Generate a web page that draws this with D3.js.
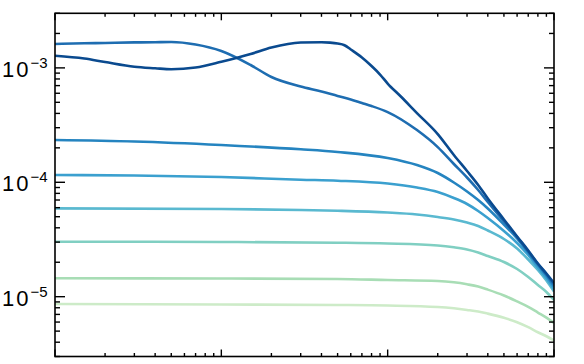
<!DOCTYPE html>
<html><head><meta charset="utf-8">
<script src="https://cdn.jsdelivr.net/npm/d3@7"></script>
<style>body{margin:0;background:#fff}svg{display:block}</style>
</head><body>
<svg id="chart" width="584" height="364"></svg>
<script>
// ---- data ----
const xDomain = [1, 1000];
const yDomain = [3e-6, 3e-3];
const yLabelExponents = [-3, -4, -5];

const s1x = [1,1.5,2,3,4,5,7,10,15,20,30,40,45,50,55,60,70,80,90,100,120,150,200,250,300,350,400,500,600,700,800,900,1000];
const s1y = [1.278e-3,1.208e-3,1.125e-3,1.024e-3,0.992e-3,0.972e-3,1.008e-3,1.132e-3,1.322e-3,1.507e-3,1.667e-3,1.677e-3,1.663e-3,1.633e-3,1.578e-3,1.448e-3,1.232e-3,1.038e-3,8.75e-4,7.30e-4,5.62e-4,4.03e-4,2.64e-4,1.732e-4,1.255e-4,9.47e-5,7.21e-5,4.73e-5,3.36e-5,2.533e-5,1.95e-5,1.594e-5,1.317e-5];

const s2x = [1,1.5,2,3,4,5,7,10,15,20,30,40,50,60,70,80,100,150,200,250,300,350,400,500,600,700,800,900,1000];
const s2y = [1.617e-3,1.640e-3,1.650e-3,1.670e-3,1.677e-3,1.683e-3,1.601e-3,1.405e-3,1.06e-3,8.32e-4,6.87e-4,6.22e-4,5.68e-4,5.29e-4,4.93e-4,4.64e-4,4.11e-4,2.86e-4,2.03e-4,1.445e-4,1.101e-4,8.56e-5,6.72e-5,4.54e-5,3.32e-5,2.482e-5,1.931e-5,1.563e-5,1.278e-5];

const s34x = [1,3,10,30,50,100,150,200,250,300,350,400,500,600,700,800,900,1000];
const s3y = [2.342e-4,2.272e-4,2.118e-4,1.942e-4,1.84e-4,1.63e-4,1.416e-4,1.205e-4,9.96e-5,8.31e-5,7.0e-5,5.90e-5,4.27e-5,3.226e-5,2.433e-5,1.892e-5,1.531e-5,1.227e-5];
const s4y = [1.157e-4,1.146e-4,1.112e-4,1.053e-4,1.032e-4,9.75e-5,9.0e-5,8.22e-5,7.29e-5,6.46e-5,5.61e-5,4.87e-5,3.75e-5,2.945e-5,2.313e-5,1.80e-5,1.456e-5,1.167e-5];

const s5x = [1,10,30,50,100,150,200,250,300,350,400,500,600,700,800,900,1000];
const s5y = [5.92e-5,5.84e-5,5.73e-5,5.64e-5,5.44e-5,5.23e-5,4.97e-5,4.73e-5,4.45e-5,4.15e-5,3.79e-5,3.193e-5,2.637e-5,2.113e-5,1.71e-5,1.385e-5,1.110e-5];

const s678x = [1,10,50,100,200,250,300,350,400,500,600,700,800,900,1000];
const s6y = [3.025e-5,3.006e-5,2.964e-5,2.916e-5,2.80e-5,2.70e-5,2.585e-5,2.433e-5,2.268e-5,2.01e-5,1.746e-5,1.486e-5,1.265e-5,1.099e-5,9.35e-6];
const s7y = [1.448e-5,1.442e-5,1.427e-5,1.399e-5,1.371e-5,1.335e-5,1.283e-5,1.227e-5,1.153e-5,1.024e-5,9.09e-6,8.16e-6,7.27e-6,6.56e-6,5.89e-6];
const s8y = [8.63e-6,8.54e-6,8.46e-6,8.37e-6,8.12e-6,7.91e-6,7.66e-6,7.42e-6,7.11e-6,6.54e-6,5.98e-6,5.41e-6,4.89e-6,4.51e-6,4.14e-6];

const seriesColors = ["#0a4a8f","#1e6db1","#2584c0","#3ba0cf","#5ab9d0","#80cfc2","#a8ddb5","#cdebc8"];

// ---- build ----
const series = [
  [s1x, s1y],[s2x, s2y],[s34x, s3y],[s34x, s4y],
  [s5x, s5y],[s678x, s6y],[s678x, s7y],[s678x, s8y]
].map(([xs, ys], i) => ({color: seriesColors[i], pts: xs.map((x, j) => [x, ys[j]])}));

const L = 55, R = 554, T = 13.3, B = 356.5;
const x = d3.scaleLog().domain(xDomain).range([L, R]);
const y = d3.scaleLog().domain(yDomain).range([B, T]);
const svg = d3.select("#chart");

svg.append("defs").append("clipPath").attr("id","clip")
  .append("rect").attr("x",L).attr("y",T).attr("width",R-L).attr("height",B-T);

const line = d3.line().x(d => x(d[0])).y(d => y(d[1])).curve(d3.curveMonotoneX);
const g = svg.append("g").attr("clip-path","url(#clip)");
series.slice().reverse().forEach(s => {
  g.append("path").attr("d", line(s.pts)).attr("fill","none")
    .attr("stroke", s.color).attr("stroke-width", 2.6).attr("stroke-linejoin","round");
});

// frame
svg.append("rect").attr("x",L).attr("y",T).attr("width",R-L).attr("height",B-T)
  .attr("fill","none").attr("stroke","#000").attr("stroke-width",1.6);

const isMajor = v => Math.abs(Math.log10(v) - Math.round(Math.log10(v))) < 1e-9;
const tk = svg.append("g").attr("stroke","#000").attr("stroke-width",1.4);
x.ticks().forEach(v => {
  const px = x(v), len = isMajor(v) ? 7 : 3.5;
  tk.append("line").attr("x1",px).attr("x2",px).attr("y1",B).attr("y2",B-len);
  tk.append("line").attr("x1",px).attr("x2",px).attr("y1",T).attr("y2",T+len);
});
y.ticks().forEach(v => {
  const py = y(v), len = isMajor(v) ? 10 : 5;
  tk.append("line").attr("x1",L).attr("x2",L+len).attr("y1",py).attr("y2",py);
  tk.append("line").attr("x1",R).attr("x2",R-len).attr("y1",py).attr("y2",py);
});

// y labels
yLabelExponents.forEach(e => {
  const py = y(Math.pow(10, e));
  const t = svg.append("text").attr("x", 2).attr("y", py + 9)
    .attr("font-family","'Liberation Sans', Arial, sans-serif").attr("font-size", 22).attr("fill","#000");
  t.append("tspan").attr("letter-spacing", 2).text("10");
  t.append("tspan").attr("dy", -9).attr("font-size", 15).text("\u2212" + Math.abs(e));
});
</script>
</body></html>
